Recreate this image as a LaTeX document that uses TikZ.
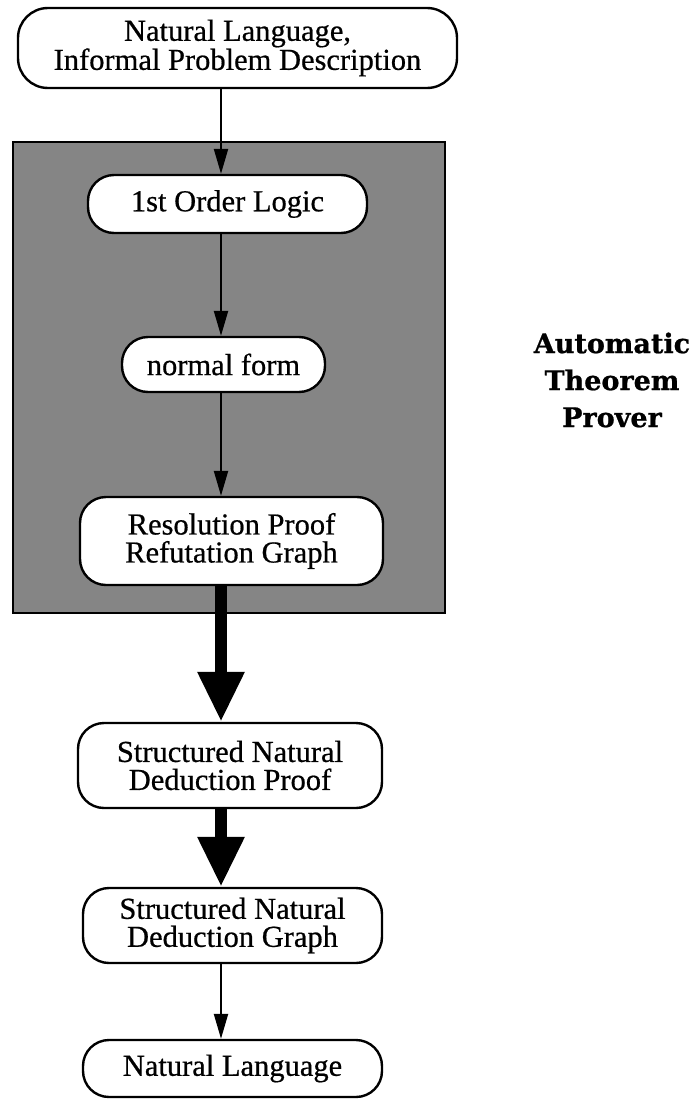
\documentclass[tikz,border=0pt]{standalone}
\usepackage{fontspec}
\setmainfont{Liberation Serif}
\newfontfamily\stagefont{Liberation Serif}[FakeBold=0.6]
\newfontfamily\bannerfont{DejaVu Serif}[BoldFeatures={FakeBold=0.8}]
\usetikzlibrary{arrows.meta}
\begin{document}
\begin{tikzpicture}[x=1pt,y=-1pt,
  stage/.style={draw=black, line width=2.4pt, fill=white, rounded corners=26pt,
    align=center, inner sep=0pt, font=\stagefont\fontsize{30.5}{28}\selectfont},
  panel/.style={draw=black, line width=1.8pt, fill=black!48, inner sep=0pt},
  thinflow/.style={line width=2.2pt, -{Triangle[length=25pt,width=14pt]}},
  thickflow/.style={line width=12pt, -{Triangle[length=50pt,width=44pt]}},
  banner/.style={align=center, inner sep=0pt,
    font=\bannerfont\bfseries\fontsize{27}{37}\selectfont},
]
% page area
\fill[white] (0,0) rectangle (695,1100);
\useasboundingbox (0,0) rectangle (695,1100);

% shaded region holding the prover stages
\node[panel, minimum width=432pt, minimum height=471pt] (atp) at (229,377.5) {};

% stages of the pipeline
\node[stage, rounded corners=30pt, minimum width=439pt, minimum height=80pt] (src) at (237.5,48)
  {Natural Language,\\Informal Problem Description};
\node[stage, minimum width=279pt, minimum height=58pt] (fol) at (227.5,204) {1st Order Logic};
\node[stage, minimum width=203pt, minimum height=55pt] (nf) at (223.5,364.5) {normal form};
\node[stage, minimum width=303pt, minimum height=88pt] (res) at (231.5,541)
  {Resolution Proof\\Refutation Graph};
\node[stage, minimum width=304pt, minimum height=85pt] (sndp) at (230,765.5)
  {Structured Natural\\Deduction Proof};
\node[stage, minimum width=299pt, minimum height=75pt] (sndg) at (232.5,925.5)
  {Structured Natural\\Deduction Graph};
\node[stage, minimum width=299pt, minimum height=57pt] (nl) at (232.5,1068.5) {Natural Language};

% label of the shaded region
\node[banner] (lbl) at (612,380) {Automatic\\Theorem\\Prover};

% connectors along a common vertical line
\coordinate (spine) at (221,0);
\draw[thinflow] (src.south -| spine) -- (fol.north -| spine);
\draw[thinflow] (fol.south -| spine) -- (nf.north -| spine);
\draw[thinflow] (nf.south -| spine) -- (res.north -| spine);
\draw[thickflow] (res.south -| spine) -- (sndp.north -| spine);
\draw[thickflow] (sndp.south -| spine) -- (sndg.north -| spine);
\draw[thinflow] (sndg.south -| spine) -- (nl.north -| spine);
\end{tikzpicture}
\end{document}
